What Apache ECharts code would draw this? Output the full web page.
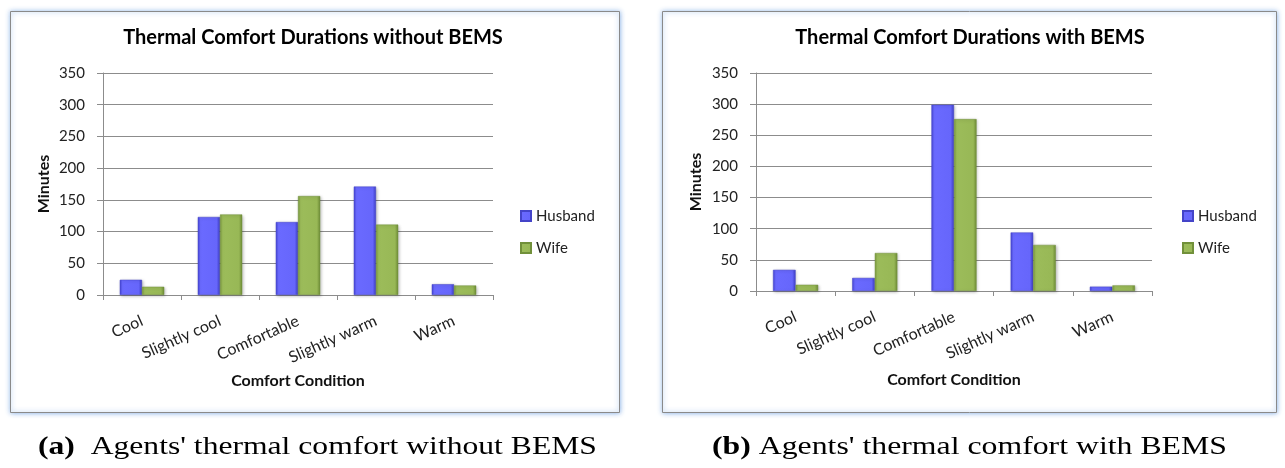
<!DOCTYPE html>
<html>
<head>
<meta charset="utf-8">
<script src="https://cdn.jsdelivr.net/npm/echarts@6/dist/echarts.min.js"></script>
<style>
html,body{margin:0;padding:0;background:#fff;}
#c{width:1285px;height:468px;}
</style>
</head>
<body>
<div id="c"></div>
<script>
const categories = ['Cool', 'Slightly cool', 'Comfortable', 'Slightly warm', 'Warm'];
const seriesNames = ['Husband', 'Wife'];
const husbandWithout = [24, 123, 115, 171, 17];
const wifeWithout = [13, 127, 156, 111, 15];
const husbandWith = [34, 21, 299, 94, 7];
const wifeWith = [10, 61, 276, 74, 9];
const yMin = 0, yMax = 350, yStep = 50;
const titleWithout = 'Thermal Comfort Durations without BEMS';
const titleWith = 'Thermal Comfort Durations with BEMS';
const xAxisName = 'Comfort Condition';
const yAxisName = 'Minutes';
const captionA = ['(a)', "Agents' thermal comfort without BEMS"];
const captionB = ['(b)', "Agents' thermal comfort with BEMS"];

const FONT = 'Lato';
const blueGrad = new echarts.graphic.LinearGradient(0, 0, 1, 0, [
  {offset: 0, color: '#4545d8'}, {offset: 0.12, color: '#6a6aff'},
  {offset: 0.85, color: '#6666fb'}, {offset: 1, color: '#3f3fc8'}]);
const greenGrad = new echarts.graphic.LinearGradient(0, 0, 1, 0, [
  {offset: 0, color: '#7c9c3e'}, {offset: 0.12, color: '#9cbc5a'},
  {offset: 0.85, color: '#98b856'}, {offset: 1, color: '#6f8c36'}]);
const colors = [blueGrad, greenGrad];

function xAx(gi, gap) {
  return {
    type: 'category', gridIndex: gi, data: categories,
    name: xAxisName, nameLocation: 'middle', nameGap: gap,
    nameTextStyle: {fontFamily: FONT, fontWeight: 'bold', fontSize: 16, color: '#111'},
    axisLine: {lineStyle: {color: '#8c8c8c', width: 1}},
    axisTick: {show: true, length: 5, lineStyle: {color: '#8c8c8c'}},
    axisLabel: {rotate: 24, margin: 25, fontFamily: FONT, fontSize: 16, color: '#222', interval: 0},
    splitLine: {show: false}
  };
}
function yAx(gi, gap) {
  return {
    type: 'value', gridIndex: gi, min: yMin, max: yMax, interval: yStep,
    name: yAxisName, nameLocation: 'middle', nameGap: gap,
    nameTextStyle: {fontFamily: FONT, fontWeight: 'bold', fontSize: 16, color: '#111'},
    axisLine: {show: true, lineStyle: {color: '#8c8c8c', width: 1}},
    axisTick: {show: true, length: 6, lineStyle: {color: '#8c8c8c'}},
    axisLabel: {fontFamily: FONT, fontSize: 15, color: '#222', margin: 18},
    splitLine: {show: true, lineStyle: {color: '#8c8c8c', width: 1}}
  };
}
function bar(name, data, gi, ci) {
  return {
    type: 'bar', name: name, data: data, xAxisIndex: gi, yAxisIndex: gi,
    barGap: '0%', barCategoryGap: '43%',
    itemStyle: {color: colors[ci], borderColor: ci === 0 ? '#4444c8' : '#71903a', borderWidth: 0.5,
      shadowColor: 'rgba(0,0,0,0.25)', shadowBlur: 3, shadowOffsetX: 1, shadowOffsetY: 1},
    emphasis: {disabled: true}
  };
}
function legend(left, top) {
  return {
    data: seriesNames, orient: 'vertical', left: left, top: top,
    icon: 'rect', itemWidth: 10, itemHeight: 10, itemGap: 16,
    textStyle: {fontFamily: FONT, fontSize: 15, color: '#222', lineHeight: 16},
    selectedMode: false
  };
}
function frame(x, y, w, h) {
  return {type: 'rect', z: -10, silent: true,
    shape: {x: x, y: y, width: w, height: h},
    style: {fill: '#fff', stroke: '#8a8a8a', lineWidth: 1,
      shadowBlur: 5, shadowColor: 'rgba(110,160,225,0.9)'}};
}
function txt(x, y, text, font, align) {
  return {type: 'text', z: 100, silent: true, x: x, y: y,
    style: {text: text, font: font, fill: '#000', align: align || 'center', verticalAlign: 'middle'}};
}

const chart = echarts.init(document.getElementById('c'), null, {renderer: 'canvas'});
chart.setOption({
  animation: false,
  backgroundColor: '#fff',
  grid: [
    {left: 103, top: 73, width: 390, height: 222},
    {left: 756, top: 73, width: 396, height: 218}
  ],
  xAxis: [xAx(0, 78), xAx(1, 81)],
  yAxis: [yAx(0, 51), yAx(1, 52)],
  legend: [legend(515, 203), legend(1177, 203)],
  series: [
    bar(seriesNames[0], husbandWithout, 0, 0),
    bar(seriesNames[1], wifeWithout, 0, 1),
    bar(seriesNames[0], husbandWith, 1, 0),
    bar(seriesNames[1], wifeWith, 1, 1)
  ],
  graphic: [
    frame(10.5, 11.5, 609, 401),
    frame(662.5, 11.5, 614, 401),
    txt(313, 38, titleWithout, 'bold 20px Lato'),
    txt(970, 38, titleWith, 'bold 20px Lato'),
    {type: 'text', z: 100, silent: true, x: 38, y: 447, scaleX: 1.216,
      style: {text: '{b|' + captionA[0] + '}  ' + captionA[1], font: '26px "Liberation Serif"', fill: '#000', verticalAlign: 'middle',
        rich: {b: {font: 'bold 26px "Liberation Serif"'}}}},
    {type: 'text', z: 100, silent: true, x: 712, y: 447, scaleX: 1.222,
      style: {text: '{b|' + captionB[0] + '} ' + captionB[1], font: '26px "Liberation Serif"', fill: '#000', verticalAlign: 'middle',
        rich: {b: {font: 'bold 26px "Liberation Serif"'}}}}
  ]
});
</script>
</body>
</html>
